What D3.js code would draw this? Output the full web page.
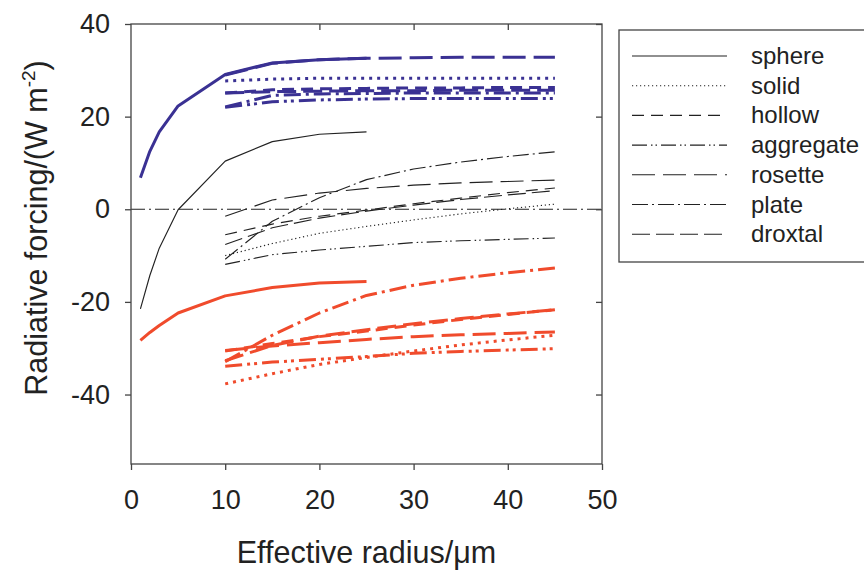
<!DOCTYPE html>
<html>
<head>
<meta charset="utf-8">
<script src="https://cdn.jsdelivr.net/npm/d3@7"></script>
<style>
  html, body { margin: 0; padding: 0; background: #fff; }
  svg { display: block; font-family: "Liberation Sans", Arial, Helvetica, sans-serif; }
</style>
</head>
<body>
<svg id="chart" width="864" height="573"></svg>
<script>
// Effective radius grids (µm)
const sphereRadius = [1, 2, 3, 5, 10, 15, 20, 25];
const crystalRadius = [10, 15, 20, 25, 30, 35, 40, 45];

// Particle habits, in legend order
const habits = ["sphere", "solid", "hollow", "aggregate", "rosette", "plate", "droxtal"];

// Longwave forcing (W m-2), one row per habit
const longwaveForcing = [
  [6.8, 12.5, 16.7, 22.3, 29.1, 31.6, 32.3, 32.6],
  [27.7, 28.1, 28.3, 28.3, 28.3, 28.3, 28.3, 28.3],
  [25.1, 25.8, 26.0, 26.1, 26.2, 26.2, 26.3, 26.3],
  [22.0, 23.2, 23.6, 23.8, 23.9, 23.9, 23.9, 23.9],
  [29.0, 31.5, 32.3, 32.6, 32.7, 32.8, 32.8, 32.8],
  [22.1, 24.6, 24.9, 25.0, 25.1, 25.1, 25.1, 25.1],
  [25.1, 25.4, 25.5, 25.6, 25.6, 25.7, 25.7, 25.7]
];

// Shortwave forcing (W m-2)
const shortwaveForcing = [
  [-28.3, -26.6, -25.1, -22.4, -18.7, -16.9, -15.9, -15.6],
  [-37.7, -35.5, -33.5, -32.0, -30.6, -29.3, -28.2, -27.2],
  [-30.6, -29.0, -27.5, -26.3, -25.0, -23.8, -22.7, -21.7],
  [-33.9, -33.0, -32.4, -31.8, -31.1, -30.7, -30.4, -30.1],
  [-30.5, -29.5, -28.8, -28.1, -27.5, -27.1, -26.8, -26.5],
  [-32.9, -27.2, -22.4, -18.6, -16.4, -14.9, -13.7, -12.7],
  [-32.7, -29.4, -27.4, -26.0, -24.7, -23.6, -22.6, -21.7]
];

// Net forcing (W m-2)
const netForcing = [
  [-21.5, -14.3, -8.4, -0.1, 10.4, 14.6, 16.2, 16.7],
  [-10.0, -7.4, -5.2, -3.7, -2.3, -1.0, 0.1, 1.1],
  [-5.5, -3.2, -1.5, -0.2, 1.2, 2.4, 3.6, 4.6],
  [-11.9, -9.8, -8.8, -8.0, -7.2, -6.8, -6.5, -6.2],
  [-1.5, 2.0, 3.5, 4.5, 5.2, 5.7, 6.0, 6.3],
  [-10.8, -2.6, 2.5, 6.4, 8.7, 10.2, 11.4, 12.4],
  [-7.6, -4.0, -1.9, -0.4, 0.9, 2.1, 3.1, 4.0]
];

const xTicks = [0, 10, 20, 30, 40, 50];
const yTicks = [-40, -20, 0, 20, 40];

// Dash patterns per habit: thin (net) and thick (longwave / shortwave)
const thinDash = ["", "1.2,2.8", "12,7", "15,4,1.5,3,1.5,4", "23,8", "16,4,2,4", "18,6"];
const thickDash = ["", "3,5", "12,7", "17,5,3,4,3,5", "23,8", "17,5,3,5", "19,7"];

const blue = "#3a3193";
const red = "#f04b2c";
const ink = "#222";

const svg = d3.select("#chart");
const x = d3.scaleLinear().domain([0, 50]).range([131, 602]);
const y = d3.scaleLinear().domain([-55, 40]).range([464, 24]);

const line = d3.line().x(d => x(d[0])).y(d => y(d[1]));

// zero reference line
svg.append("path")
  .attr("d", line([[0, 0], [50, 0]]))
  .attr("fill", "none")
  .attr("stroke", ink)
  .attr("stroke-width", 1)
  .attr("stroke-dasharray", "14,4,2,4");

function drawBand(values, color, width, dashes) {
  habits.forEach((h, i) => {
    const radii = i === 0 ? sphereRadius : crystalRadius;
    const pts = radii.map((r, j) => [r, values[i][j]]);
    svg.append("path")
      .attr("d", line(pts))
      .attr("fill", "none")
      .attr("stroke", color)
      .attr("stroke-width", width)
      .attr("stroke-linejoin", "round")
      .attr("stroke-dasharray", dashes[i] || null);
  });
}

drawBand(netForcing, ink, 1.15, thinDash);
drawBand(shortwaveForcing, red, 3, thickDash);
drawBand(longwaveForcing, blue, 3, thickDash);

// frame
svg.append("rect")
  .attr("x", x(0)).attr("y", y(40))
  .attr("width", x(50) - x(0)).attr("height", y(-55) - y(40))
  .attr("fill", "none").attr("stroke", "#444").attr("stroke-width", 1.3);

// axes
const fmt = d => String(d);
svg.append("g")
  .attr("transform", `translate(0,${y(-55)})`)
  .call(d3.axisBottom(x).tickValues(xTicks).tickSize(6).tickPadding(20).tickFormat(fmt));
svg.append("g")
  .attr("transform", `translate(${x(0)},0)`)
  .call(d3.axisLeft(y).tickValues(yTicks).tickSize(6).tickPadding(15).tickFormat(fmt));
svg.append("g")
  .attr("transform", `translate(0,${y(40)})`)
  .call(d3.axisBottom(x).tickValues(xTicks.slice(1, -1)).tickSize(6).tickFormat(""));
svg.append("g")
  .attr("transform", `translate(${x(50)},0)`)
  .call(d3.axisLeft(y).tickValues(yTicks).tickSize(6).tickFormat(""));

svg.selectAll(".domain").remove();
svg.selectAll(".tick line").attr("stroke", "#444").attr("stroke-width", 1.3);
svg.selectAll(".tick text")
  .attr("font-family", "'Liberation Sans', Arial, sans-serif")
  .attr("font-size", 27)
  .attr("fill", ink);

// axis titles
svg.append("text")
  .attr("x", (x(0) + x(50)) / 2)
  .attr("y", 563)
  .attr("text-anchor", "middle")
  .attr("font-size", 30.5)
  .attr("fill", ink)
  .text("Effective radius/μm");

const yTitle = svg.append("text")
  .attr("transform", "translate(47,228) rotate(-90)")
  .attr("text-anchor", "middle")
  .attr("font-size", 30.5)
  .attr("fill", ink);
yTitle.append("tspan").text("Radiative forcing/(W m");
yTitle.append("tspan").attr("font-size", 19).attr("dy", -12).text("-2");
yTitle.append("tspan").attr("dy", 12).text(")");

// legend
const legend = svg.append("g");
legend.append("rect")
  .attr("x", 619).attr("y", 30).attr("width", 260).attr("height", 232)
  .attr("fill", "#fff").attr("stroke", "#444").attr("stroke-width", 1.3);

habits.forEach((h, i) => {
  const ry = 56 + i * 29.7;
  legend.append("line")
    .attr("x1", 632).attr("x2", 727).attr("y1", ry).attr("y2", ry)
    .attr("stroke", ink).attr("stroke-width", 1.1)
    .attr("stroke-dasharray", thinDash[i] || null);
  legend.append("text")
    .attr("x", 751).attr("y", ry + 8)
    .attr("font-size", 24)
    .attr("fill", ink)
    .text(h);
});
</script>
</body>
</html>
